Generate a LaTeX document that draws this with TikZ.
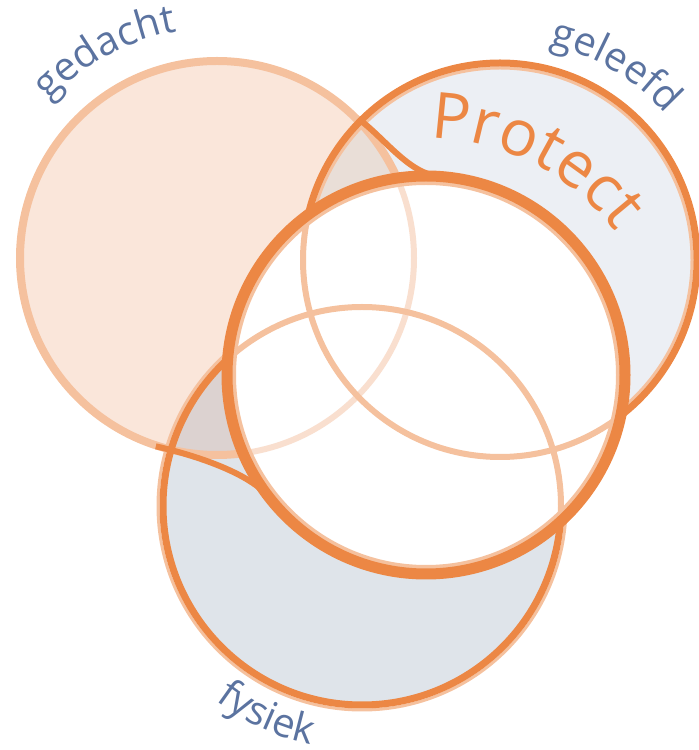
\documentclass[tikz,border=0pt]{standalone}
\usepackage{fontspec}
\setmainfont{Open Sans}
\usetikzlibrary{decorations.text}

\definecolor{peachfill}{HTML}{FAE6DA}
\definecolor{bluefill}{HTML}{ECEFF4}
\definecolor{greyfill}{HTML}{DFE4EA}
\definecolor{mixtop}{HTML}{E9DED7}
\definecolor{mixbottom}{HTML}{DCD2D0}
\definecolor{darkorange}{HTML}{EC8744}
\definecolor{lightorange}{HTML}{F5C19E}
\definecolor{faintorange}{HTML}{F9DFCF}
\definecolor{slate}{HTML}{5B73A0}

\newcommand{\labelfont}{\fontsize{40}{40}\selectfont\color{slate}}
\newcommand{\protectfont}{\fontsize{64}{64}\selectfont\color{darkorange}}

\begin{document}
\begin{tikzpicture}[x=1pt,y=1pt,
    rim/.style={line width=3, draw=lightorange},
    ring/.style={line width=7, draw=darkorange},
    fillet/.style={line width=6, draw=darkorange},
    seen/.style={line width=6, draw=#1},
    onarc/.style={decorate, decoration={text along path, text align=fit to path, text={#1}}}]
  \useasboundingbox (0,0) rectangle (699,750);

  \coordinate (gedacht) at (217,492);
  \coordinate (geleefd) at (500,490);
  \coordinate (fysiek)  at (362,244);
  \coordinate (protect) at (426,375);

  % fills and overlaps
  \fill[bluefill] (geleefd) circle (197);
  \fill[greyfill] (fysiek) circle (199);
  \fill[peachfill] (gedacht) circle (197);
  \begin{scope}
    \clip (gedacht) circle (197);
    \fill[mixtop] (geleefd) circle (197);
    \fill[mixbottom] (fysiek) circle (199);
  \end{scope}

  % outlines
  \draw[line width=8, lightorange] (gedacht) circle (197);
  \draw[rim] (geleefd) circle (192);
  \draw[ring] (geleefd) circle (197);
  \draw[rim] (fysiek) circle (204);
  \draw[ring] (fysiek) circle (199);

  % joins into the centre
  \path (geleefd) ++(135:197) coordinate (topstart);
  \path (protect) ++(86:199) coordinate (topend);
  \path (gedacht) ++(252:198) coordinate (lowstart);
  \path (protect) ++(218:199) coordinate (lowend);
  \draw[fillet] (topstart) .. controls +(24,-18) and +(-30,2) .. (topend);
  \draw[fillet] (lowstart) .. controls +(44,-10) and +(-18,23) .. (lowend);

  % centre circle
  \fill[white] (protect) circle (199);
  \begin{scope}
    \clip (protect) circle (199);
    \draw[seen=faintorange] (gedacht) circle (197);
    \draw[seen=lightorange] (geleefd) circle (197);
    \draw[seen=lightorange] (fysiek) circle (199);
  \end{scope}
  \draw[line width=4, lightorange] (protect) circle (192);
  \draw[line width=11, darkorange] (protect) circle (199);

  % labels
  \path[onarc={|\labelfont|gedacht}] (gedacht) ++(137:230) arc[start angle=137, end angle=100, radius=230];
  \path[onarc={|\labelfont|geleefd}] (geleefd) ++(77:221) arc[start angle=77, end angle=43, radius=221];
  \path[onarc={|\labelfont|fysiek}] (fysiek) ++(233:244) arc[start angle=233, end angle=258, radius=244];
  \path[onarc={|\protectfont|Protect}] (protect) ++(89:237) arc[start angle=89, end angle=37, radius=237];
\end{tikzpicture}
\end{document}
